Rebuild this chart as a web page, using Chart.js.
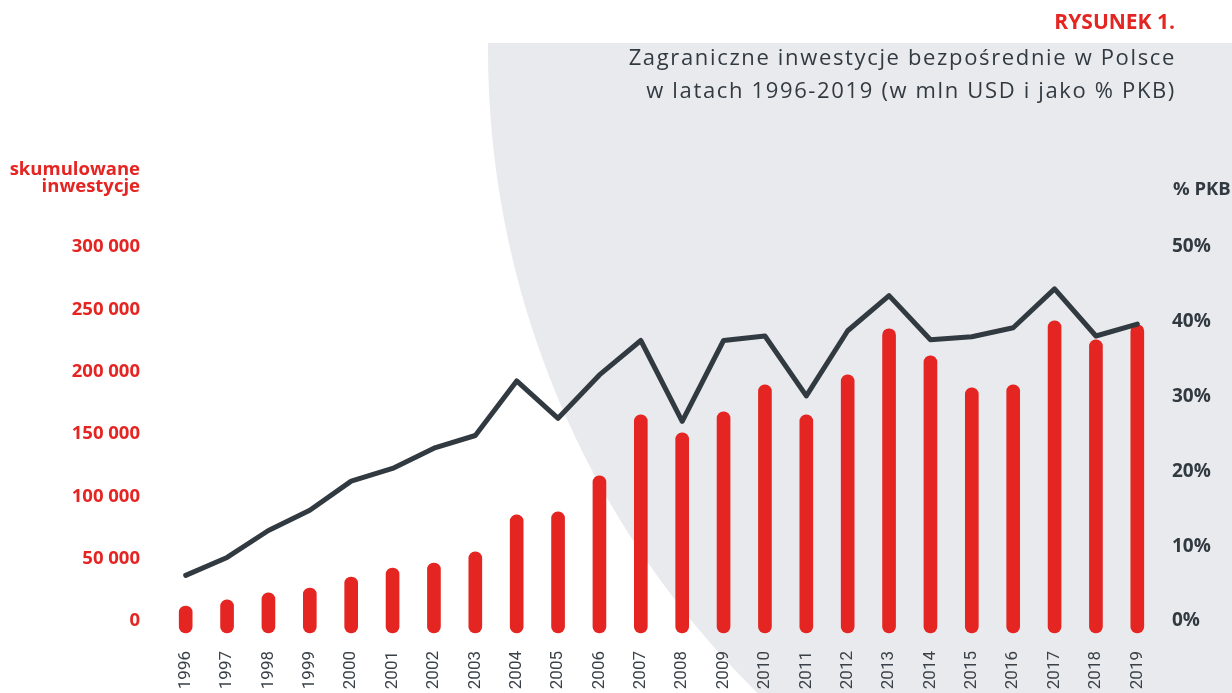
<!DOCTYPE html>
<html>
<head>
<meta charset="utf-8">
<script src="https://cdn.jsdelivr.net/npm/chart.js@4.4.1/dist/chart.umd.min.js"></script>
<style>
    html, body { margin: 0; padding: 0; background: #fff; }
    #wrap { position: relative; width: 1232px; height: 693px; overflow: hidden; }
    #chart { position: absolute; left: 0; top: 0; }
    .txt { position: absolute; white-space: nowrap; }
    #fig { right: 57px; top: 7px; font: bold 21px 'Open Sans'; color: #e42522; }
    #ttl { right: 56px; top: 40px; font: 22px 'Open Sans'; color: #323a41; text-align: right; line-height: 33px; letter-spacing: 1.65px; }
    #ylab { right: 1092px; top: 159px; font: bold 18.5px 'Open Sans'; color: #e42522; text-align: right; line-height: 17px; }
    #y2lab { left: 1173px; top: 175px; font: bold 18.5px 'Open Sans'; color: #323a41; }
</style>
</head>
<body>
<div id="wrap">
    <canvas id="chart" width="1232" height="693"></canvas>
    <div class="txt" id="fig">RYSUNEK 1.</div>
    <div class="txt" id="ttl">Zagraniczne inwestycje bezpośrednie w Polsce<br>w latach 1996-2019 (w mln USD i jako % PKB)</div>
    <div class="txt" id="ylab">skumulowane<br>inwestycje</div>
    <div class="txt" id="y2lab">% PKB</div>
</div>
<script>
// lata
const years = ['1996', '1997', '1998', '1999', '2000', '2001', '2002', '2003', '2004', '2005', '2006', '2007',
               '2008', '2009', '2010', '2011', '2012', '2013', '2014', '2015', '2016', '2017', '2018', '2019'];

// skumulowane inwestycje, mln USD
const investments = [12000, 16900, 22500, 26500, 35300, 42500, 46500, 55400, 85100, 87500, 116400, 165300,
                     150900, 167700, 189400, 165300, 197400, 234400, 212700, 187000, 189400, 240800, 225500, 237600];

// % PKB
const gdpShare = [6.1, 8.5, 12.1, 14.8, 18.7, 20.4, 23.1, 24.8, 32.1, 27.1, 32.9, 37.5,
                  26.7, 37.5, 38.1, 30.1, 38.8, 43.5, 37.6, 38.0, 39.2, 44.4, 38.1, 39.7];

const leftTicks = [0, 50000, 100000, 150000, 200000, 250000, 300000];
const rightTicks = [0, 10, 20, 30, 40, 50];

const RED = '#e42522';
const DARK = '#323a41';

function spaced(v) {
    return String(v).replace(/\B(?=(\d{3})+(?!\d))/g, ' ');
}

// szare kolo w tle
const backdrop = {
    id: 'backdrop',
    beforeDraw(chart) {
        const ctx = chart.ctx;
        ctx.save();
        ctx.fillStyle = '#fff';
        ctx.fillRect(0, 0, chart.width, chart.height);
        ctx.beginPath();
        ctx.rect(0, 43, chart.width, chart.height - 43);
        ctx.clip();
        ctx.beginPath();
        ctx.arc(1390, 50, 902, 0, Math.PI * 2);
        ctx.fillStyle = '#e9eaee';
        ctx.fill();
        ctx.restore();
    }
};

const ctx = document.getElementById('chart').getContext('2d');
new Chart(ctx, {
    data: {
        labels: years,
        datasets: [
            {
                type: 'line',
                label: '% PKB',
                data: gdpShare,
                yAxisID: 'y1',
                borderColor: DARK,
                borderWidth: 5,
                borderJoinStyle: 'round',
                borderCapStyle: 'round',
                pointRadius: 0,
                tension: 0,
                order: 0
            },
            {
                type: 'bar',
                label: 'skumulowane inwestycje',
                data: investments,
                yAxisID: 'y',
                backgroundColor: RED,
                barThickness: 13,
                borderRadius: 7,
                borderSkipped: false,
                base: -9500,
                clip: false,
                order: 1
            }
        ]
    },
    options: {
        responsive: false,
        animation: false,
        devicePixelRatio: 1,
        layout: { padding: { top: 247, left: 0, right: 0, bottom: 0 } },
        plugins: {
            legend: { display: false },
            title: { display: false },
            tooltip: { enabled: false }
        },
        scales: {
            x: {
                offset: true,
                grid: { display: false, drawTicks: false },
                border: { display: false },
                ticks: {
                    autoSkip: false,
                    minRotation: 90,
                    maxRotation: 90,
                    padding: 30,
                    color: '#3a4148',
                    font: { family: 'Roboto', size: 17 }
                },
                afterFit(s) { s.height = 72; }
            },
            y: {
                position: 'left',
                min: 0,
                max: 300000,
                grid: { display: false, drawTicks: false },
                border: { display: false },
                afterBuildTicks(s) { s.ticks = leftTicks.map(v => ({ value: v })); },
                ticks: {
                    padding: 25,
                    color: RED,
                    font: { family: 'Open Sans', size: 18.5, weight: 'bold' },
                    callback: v => spaced(v)
                },
                afterFit(s) { s.width = 165; }
            },
            y1: {
                position: 'right',
                min: 0,
                max: 50,
                grid: { display: false, drawTicks: false },
                border: { display: false },
                afterBuildTicks(s) { s.ticks = rightTicks.map(v => ({ value: v })); },
                ticks: {
                    padding: 14,
                    color: DARK,
                    font: { family: 'Open Sans', size: 19, weight: 'bold' },
                    callback: v => v + '%'
                },
                afterFit(s) { s.width = 74; }
            }
        }
    },
    plugins: [backdrop]
});
</script>
</body>
</html>
